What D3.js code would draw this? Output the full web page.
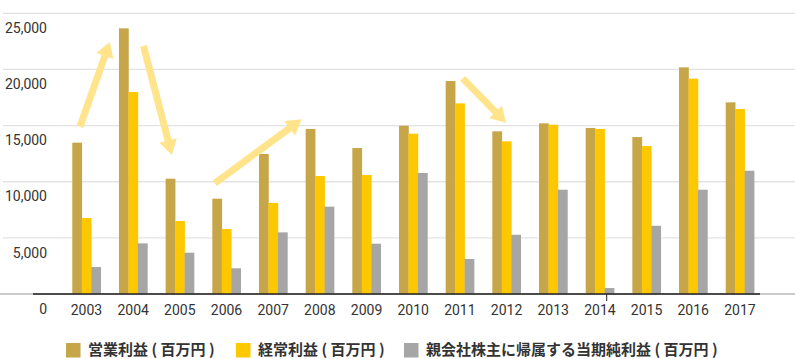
<!DOCTYPE html>
<html><head><meta charset="utf-8">
<script src="https://cdn.jsdelivr.net/npm/d3@7"></script>
<style>
html,body{margin:0;padding:0;background:#fff;}
svg{display:block;}
</style></head>
<body>
<svg id="chart" width="795" height="359"></svg>
<script>
const years = ["2003","2004","2005","2006","2007","2008","2009","2010","2011","2012","2013","2014","2015","2016","2017"];
const operatingProfit = [13480,23660,10270,8490,12470,14700,13000,14990,18970,14490,15200,14790,13980,20190,17070];
const ordinaryProfit  = [6770,17990,6500,5790,8110,10510,10600,14280,16980,13600,15080,14700,13180,19180,16480];
const netProfit       = [2400,4510,3680,2290,5490,7780,4480,10780,3120,5280,9290,530,6080,9290,10980];
const seriesNames = ["営業利益 ( 百万円 )","経常利益 ( 百万円 )","親会社株主に帰属する当期純利益 ( 百万円 )"];
const seriesColors = ["#C6A648","#FDC800","#A6A6A6"];
const yTicks = [0,5000,10000,15000,20000,25000];
// trend arrows: [yearIndexFrom, valueFrom, yearIndexTo, valueTo]
const arrows = [
  [-0.14,14900,0.50,22450],
  [1.22,22090,1.83,12380],
  [2.75,9860,4.61,15560],
  [8.06,19210,8.99,15260]
];

const svg = d3.select("#chart");
const W = 795, H = 359;
const baseY = 294, topY = 13.33;
const y = d3.scaleLinear().domain([0,25000]).range([baseY, topY]);
const x = d3.scaleBand().domain(years).range([40, 786.4]).paddingInner(0.3915).paddingOuter(0.692);
const xs = d3.scaleBand().domain([0,1,2]).range([0, x.bandwidth()]);
const xIdx = d3.scaleLinear().domain([0, years.length-1])
  .range([x(years[0]) + x.bandwidth()/2, x(years[years.length-1]) + x.bandwidth()/2]);

const font = "Roboto, 'Noto Sans', sans-serif";

// gridlines
svg.append("g").selectAll("line").data(yTicks.filter(d=>d>0)).join("line")
  .attr("x1",3).attr("x2",W).attr("y1",d=>y(d)).attr("y2",d=>y(d))
  .attr("stroke","#e3e3e3").attr("stroke-width",1.3);
svg.append("line").attr("x1",0).attr("x2",W).attr("y1",y(0)).attr("y2",y(0))
  .attr("stroke","#b8b8b8").attr("stroke-width",1.3);

// y labels (offset below gridline)
svg.append("g").selectAll("text").data(yTicks).join("text")
  .attr("x",47).attr("y",d=>y(d)+16).attr("text-anchor","end")
  .attr("dominant-baseline","middle")
  .attr("font-family",font).attr("font-size",14).attr("fill","#333")
  .text(d=>d3.format(",")(d));

// bars
const series = [operatingProfit, ordinaryProfit, netProfit];
const rows = [];
years.forEach((yr,i)=>series.forEach((s,k)=>rows.push({yr,k,v:s[i]})));
svg.append("g").selectAll("rect").data(rows).join("rect")
  .attr("x",d=>x(d.yr)+xs(d.k)).attr("width",xs.bandwidth()+0.3)
  .attr("y",d=>y(d.v)).attr("height",d=>y(0)-y(d.v))
  .attr("fill",d=>seriesColors[d.k]);

// axis line
svg.append("line").attr("x1",33).attr("x2",760).attr("y1",y(0)).attr("y2",y(0))
  .attr("stroke","#222").attr("stroke-width",1.3);
svg.append("line").attr("x1",606.7).attr("x2",606.7).attr("y1",y(0)).attr("y2",y(0)+7)
  .attr("stroke","#222").attr("stroke-width",1);

// year labels
svg.append("g").selectAll("text").data(years).join("text")
  .attr("x",d=>x(d)+x.bandwidth()/2).attr("y",311).attr("text-anchor","middle")
  .attr("dominant-baseline","middle")
  .attr("font-family",font).attr("font-size",14).attr("fill","#333")
  .text(d=>d);

// arrows
const ag = svg.append("g").attr("fill","#FFE48C").attr("stroke","#FFE48C");
arrows.forEach(a=>{
  const x1 = xIdx(a[0]), y1 = y(a[1]), x2 = xIdx(a[2]), y2 = y(a[3]);
  const dx = x2-x1, dy = y2-y1, L = Math.hypot(dx,dy);
  const ux = dx/L, uy = dy/L, px = -uy, py = ux;
  const hl = 15, hw = 9;
  const bx = x2 - ux*hl, by = y2 - uy*hl;
  ag.append("line").attr("x1",x1).attr("y1",y1).attr("x2",bx+ux*1).attr("y2",by+uy*1)
    .attr("stroke-width",7);
  ag.append("path").attr("stroke","none")
    .attr("d",`M${x2},${y2}L${bx+px*hw},${by+py*hw}L${bx-px*hw},${by-py*hw}Z`);
});

// legend
const legendX = [66, 236, 404];
const lg = svg.append("g");
seriesNames.forEach((n,k)=>{
  lg.append("rect").attr("x",legendX[k]).attr("y",343).attr("width",14.5).attr("height",14.5)
    .attr("fill",seriesColors[k]);
  lg.append("text").attr("x",legendX[k]+22).attr("y",350.5).attr("dominant-baseline","middle")
    .attr("font-family","'Noto Sans CJK JP', sans-serif").attr("font-weight",700)
    .attr("font-size",15).attr("fill","#333").text(n);
});
</script>
</body></html>
